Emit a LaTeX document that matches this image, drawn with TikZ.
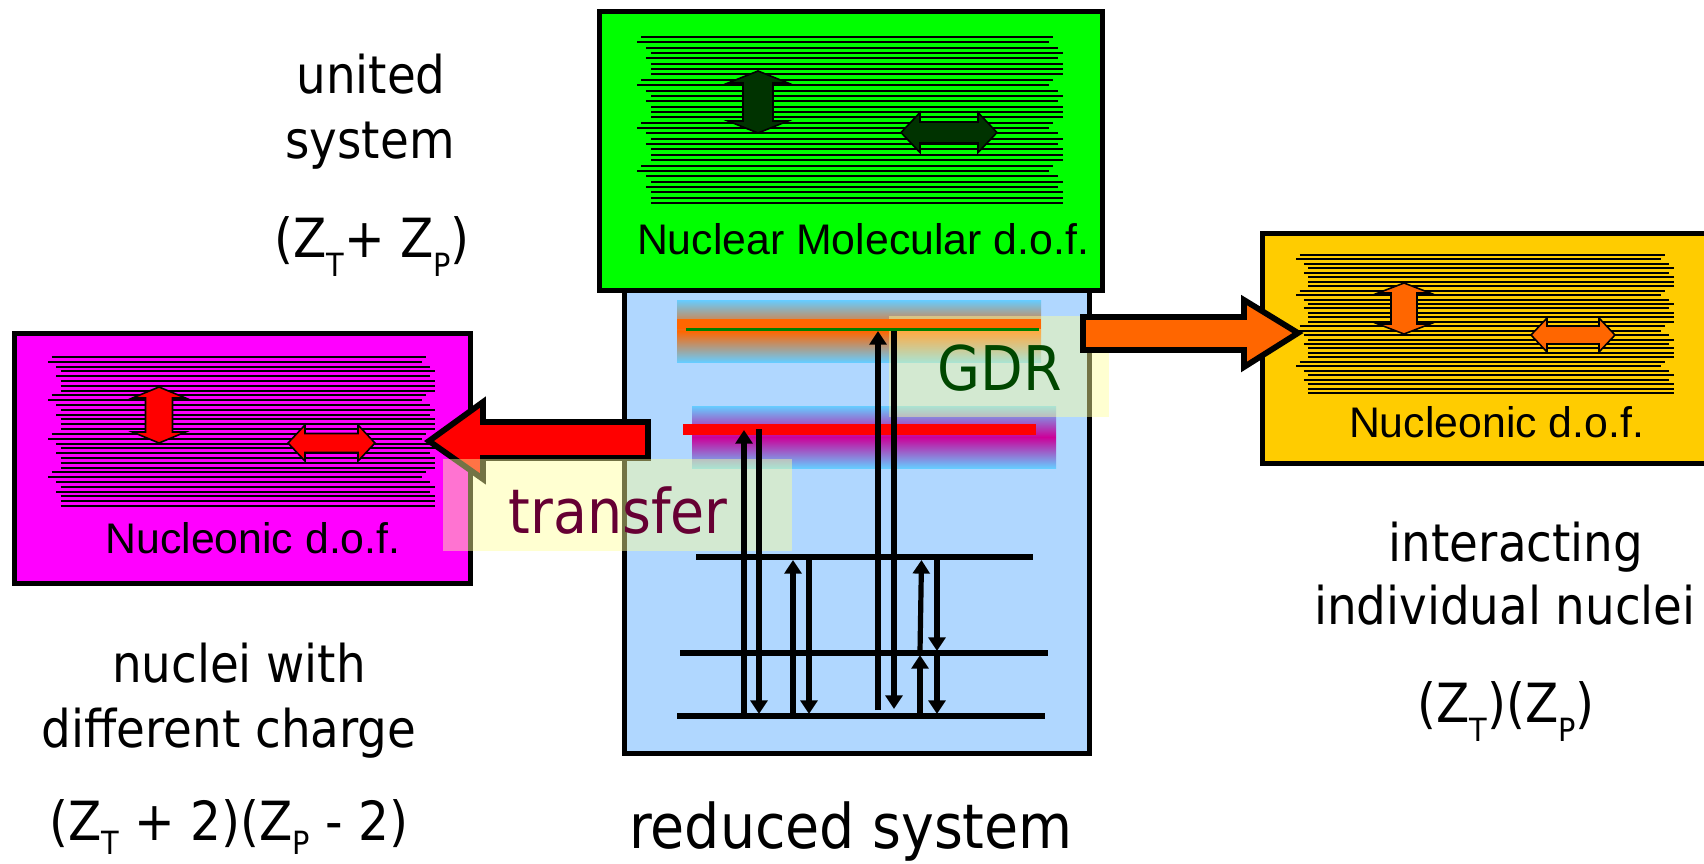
\documentclass[tikz,border=0pt]{standalone}
\usepackage{fontspec}
\usepackage{xcolor}
\usetikzlibrary{arrows.meta}
\newfontfamily\labelfont{DejaVu Sans Condensed}
\newfontfamily\doffont{Liberation Sans}
\definecolor{boxgreen}{HTML}{00FF00}
\definecolor{boxblue}{HTML}{B0D7FF}
\definecolor{boxmagenta}{HTML}{FF00FF}
\definecolor{boxyellow}{HTML}{FFCC00}
\definecolor{darkgreen}{HTML}{003300}
\definecolor{arrorange}{HTML}{FF6600}
\definecolor{bandblue}{HTML}{66CCFF}
\definecolor{bandpurple}{HTML}{CC0099}
\definecolor{paleyellow}{HTML}{FFFF99}
\definecolor{gdrgreen}{HTML}{004700}
\definecolor{wine}{HTML}{660033}
\tikzset{
  sysbox/.style={draw=black, line width=2.5pt, inner sep=0pt, outer sep=0pt},
  hatchline/.style={line width=1pt},
  levelline/.style={line width=2.6pt},
  transition/.style={line width=2.6pt, -{Triangle[length=6.8pt,width=8.4pt]}},
  bigarrow/.style={line width=2.9pt, line join=miter, miter limit=3},
  smallarrow/.style={draw=black, line width=0.8pt},
  biglabel/.style={font=\labelfont\fontsize{26}{30}\selectfont, anchor=base, inner sep=0pt},
  chargelabel/.style={font=\labelfont\fontsize{27}{30}\selectfont, anchor=base, inner sep=0pt},
  hugelabel/.style={font=\labelfont\fontsize{30.8}{34}\selectfont, anchor=base, inner sep=0pt},
  doflabel/.style={font=\doffont\fontsize{21.4}{24}\selectfont, anchor=base, inner sep=0pt},
  overlaybox/.style={fill=paleyellow, fill opacity=0.45}
}
\newcommand{\lowsub}[2][9.5pt]{\raisebox{-#1}{\fontsize{16}{16}\selectfont #2}}
% stack of 32 lines, shifted in groups of 8
\newcommand{\hatchlines}[4]{%
  \foreach \n in {0,...,3}{
    \foreach \i/\off in {0/0.0094,1/0,2/0.021,3/0.033,4/0.021,5/0.033,6/0.033,7/0.033}{
      \draw[hatchline] ({#1+\off*#3}, {#2+(8*\n+\i)*(#4-#2)/31}) -- ++({0.969*#3},0);
    }
  }
}
% cx, cy, half length, half head, head length, half shaft, colour
\newcommand{\vertarrow}[7]{%
  \draw[smallarrow, fill=#7] (#1,#2-#3) -- (#1+#4,#2-#3+#5) -- (#1+#6,#2-#3+#5) -- (#1+#6,#2+#3-#5)
    -- (#1+#4,#2+#3-#5) -- (#1,#2+#3) -- (#1-#4,#2+#3-#5) -- (#1-#6,#2+#3-#5)
    -- (#1-#6,#2-#3+#5) -- (#1-#4,#2-#3+#5) -- cycle;
}
\newcommand{\horiarrow}[7]{%
  \draw[smallarrow, fill=#7] (#1-#3,#2) -- (#1-#3+#5,#2-#4) -- (#1-#3+#5,#2-#6) -- (#1+#3-#5,#2-#6)
    -- (#1+#3-#5,#2-#4) -- (#1+#3,#2) -- (#1+#3-#5,#2+#4) -- (#1+#3-#5,#2+#6)
    -- (#1-#3+#5,#2+#6) -- (#1-#3+#5,#2+#4) -- cycle;
}
\begin{document}
\begin{tikzpicture}[x=0.5pt,y=-0.5pt]
  \useasboundingbox (0,0) rectangle (1704,863);
  \def\Ylow{716};
  \def\Ymid{653};
  \def\Yup{557};

  % reduced system
  \node[sysbox, fill=boxblue, minimum width=232.25pt, minimum height=231.5pt] (reducedbox) at (856.75,521.5) {};

  % bands
  \shade[top color=bandblue, bottom color=bandblue, middle color=arrorange] (677,300) rectangle (1041,362);
  \shade[top color=bandblue, bottom color=bandblue, middle color=bandpurple] (692,406) rectangle (1056,468);

  % side boxes
  \node[sysbox, fill=boxmagenta, minimum width=228pt, minimum height=125pt] (magentabox) at (242,458) {};
  \node[sysbox, fill=boxyellow, minimum width=230pt, minimum height=115pt] (yellowbox) at (1492,348) {};
  \hatchlines{48}{357}{386}{506}
  \hatchlines{1296}{255}{377}{393}
  \vertarrow{159}{415}{28}{26.5}{11}{13.5}{red}
  \horiarrow{331.5}{443}{43.5}{18}{17}{9.5}{red}
  \vertarrow{1404}{308.5}{25.5}{26}{10}{13}{arrorange}
  \horiarrow{1573}{335}{42}{17}{16}{9}{arrorange}

  % transfer arrow
  \draw[bigarrow, fill=red] (648,422) -- (483,422) -- (483,402) -- (429,441) -- (483,479) -- (483,458) -- (648,458) -- cycle;

  % pale boxes
  \path[overlaybox] (443,459) rectangle (792,551);
  \path[overlaybox] (889,316) rectangle (1109,417);

  % nuclear molecular box
  \node[sysbox, fill=boxgreen, minimum width=251.25pt, minimum height=139.5pt] (greenbox) at (850.75,150.5) {};
  \hatchlines{637}{37}{425}{203}
  \vertarrow{758}{102}{31}{30}{12}{15}{darkgreen}
  \horiarrow{949}{132.5}{48}{20}{19}{10.5}{darkgreen}

  % orange arrow
  \draw[bigarrow, fill=arrorange] (1083,317) -- (1244,317) -- (1244,300) -- (1298,333) -- (1244,367) -- (1244,350) -- (1083,350) -- cycle;

  % bars
  \fill[arrorange] (677,319) rectangle (1041,329);
  \draw[line width=1.5pt, green!50!black] (686,329.5) -- (1039,329.5);
  \fill[red] (683,424) rectangle (1036,435);

  % levels
  \foreach \name/\xa/\xb/\yy in {lup/696/1033/\Yup, lmid/680/1048/\Ymid, llow/677/1045/\Ylow}{
    \coordinate (\name a) at (\xa,\yy);
    \coordinate (\name b) at (\xb,\yy);
    \draw[levelline] (\name a) -- (\name b);
  }

  % transitions
  \foreach \name/\xa/\ya/\xb/\yb in {
    ta/744/\Ylow/744/430, tb/759/429/759/714, tc/793/\Ylow/793/560, td/809/560/809/714,
    te/878/710/878/331, tf/894/331/894/709, tg/920/\Ylow/920/655, th/920/652/921.5/560,
    ti/937/560/937/651, tj/937/654/937/714}{
    \coordinate (\name s) at (\xa,\ya);
    \coordinate (\name e) at (\xb,\yb);
    \draw[transition] (\name s) -- (\name e);
  }

  % box labels
  \node[doflabel] (nuclearlabel) at (863,254) {Nuclear Molecular d.o.f.};
  \node[doflabel] (magentalabel) at (253,553) {Nucleonic d.o.f.};
  \node[doflabel] (yellowlabel) at (1496.5,437) {Nucleonic d.o.f.};

  % overlay labels
  \node[hugelabel, text=wine] (transferlabel) at (618,533) {transfer};
  \node[hugelabel, text=gdrgreen] (gdrlabel) at (999.5,390) {GDR};

  % united
  \node[biglabel] (unitedl) at (371,93) {united};
  \node[biglabel] (unitedm) at (370,158) {system};
  \node[chargelabel] (unitedz) at (372,257) {(Z\lowsub{T}+ Z\lowsub{P})};

  % different charge
  \node[biglabel] (chargel) at (239,682) {nuclei with};
  \node[biglabel] (chargem) at (229,747) {different charge};
  \node[chargelabel] (chargez) at (229,840) {(Z\lowsub[7pt]{T} + 2)(Z\lowsub[7pt]{P} - 2)};

  % reduced
  \node[hugelabel] (reducedl) at (851,848) {reduced system};

  % individual
  \node[biglabel] (indivl) at (1516,561) {interacting};
  \node[biglabel] (indivm) at (1505,624) {individual nuclei};
  \node[chargelabel] (indivz) at (1506,722) {(Z\lowsub{T})(Z\lowsub{P})};
\end{tikzpicture}
\end{document}
